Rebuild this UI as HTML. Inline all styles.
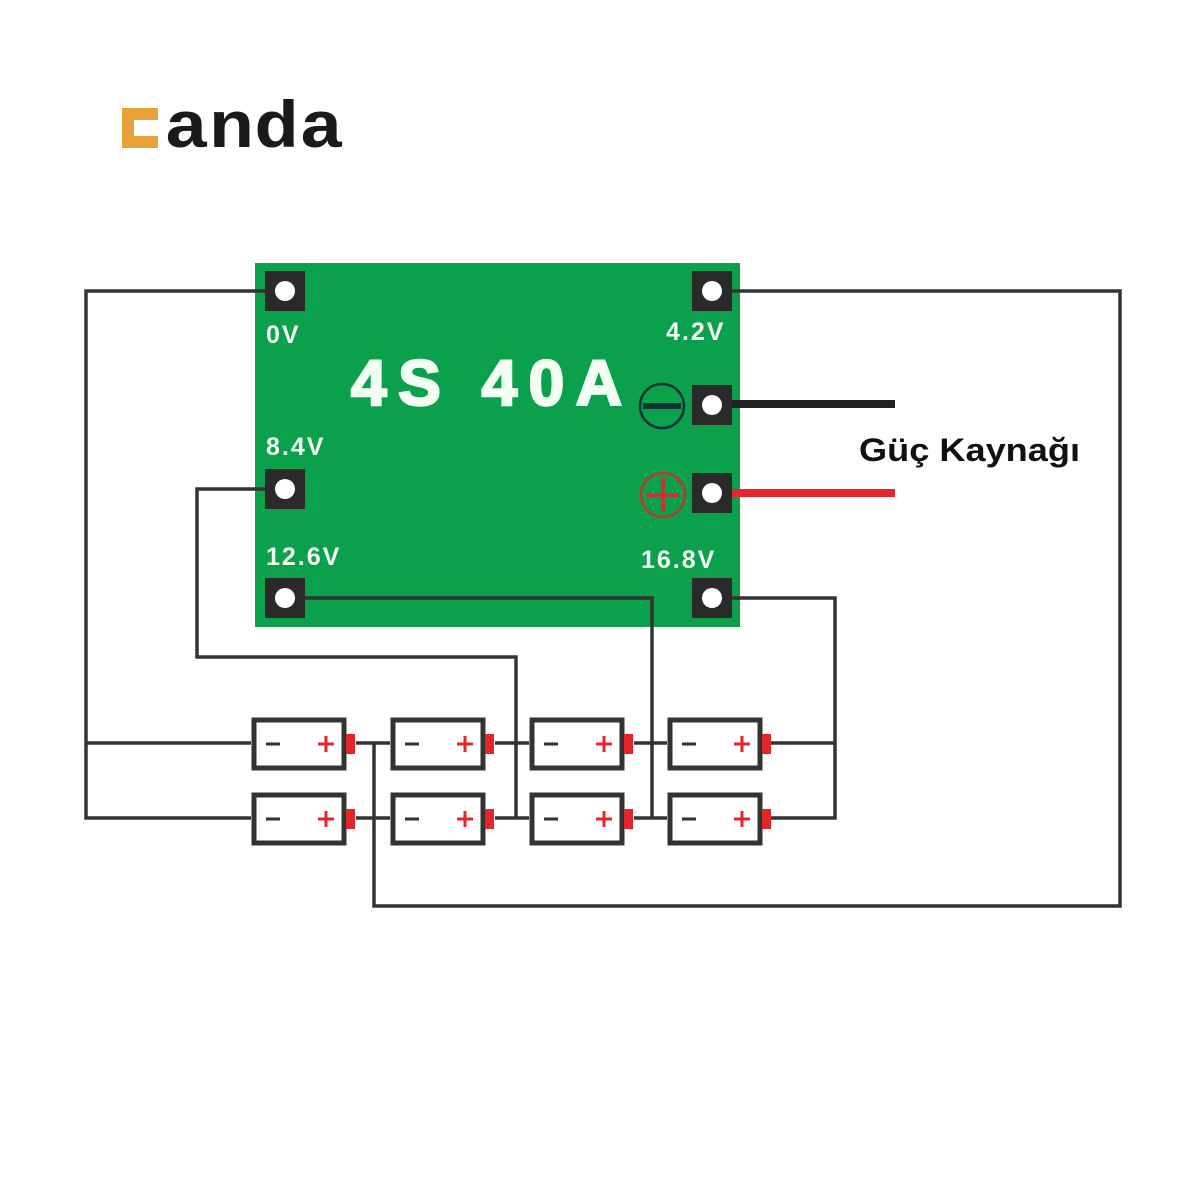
<!DOCTYPE html>
<html><head><meta charset="utf-8"><style>
html,body{margin:0;padding:0;background:#fff;width:1200px;height:1200px;overflow:hidden}
</style></head><body>
<svg width="1200" height="1200" viewBox="0 0 1200 1200" xmlns="http://www.w3.org/2000/svg">
<rect width="1200" height="1200" fill="#fff"/>
<!-- logo -->
<path d="M122 108 H158 V120 H134 V136 H158 V148 H122 Z" fill="#e8a23a"/>
<text x="164" y="147" font-family="Liberation Mono, monospace" font-weight="bold" font-size="66" fill="#1a1a1a" textLength="180" lengthAdjust="spacingAndGlyphs">anda</text>
<!-- board -->
<rect x="255" y="263" width="485" height="364" fill="#0aa04c"/>
<g fill="none" stroke="#333" stroke-width="3.5">
<polyline points="285,291 86,291 86,818 251,818"/>
<line x1="86" y1="743" x2="251" y2="743"/>
<polyline points="712,291 1120,291 1120,906 374,906 374,743"/>
<line x1="356" y1="743" x2="390" y2="743"/>
<line x1="356" y1="818" x2="390" y2="818"/>
<polyline points="285,489 197,489 197,657 516,657 516,818"/>
<line x1="495" y1="743" x2="529" y2="743"/>
<line x1="495" y1="818" x2="529" y2="818"/>
<polyline points="285,598 652,598 652,818"/>
<line x1="634" y1="743" x2="667" y2="743"/>
<line x1="634" y1="818" x2="667" y2="818"/>
<polyline points="712,598 835,598 835,818 770,818"/>
<line x1="770" y1="743" x2="835" y2="743"/>
</g>
<line x1="712" y1="404" x2="895" y2="404" stroke="#222" stroke-width="8"/>
<line x1="712" y1="493" x2="895" y2="493" stroke="#e4262c" stroke-width="8"/>
<!-- pads -->
<g fill="#2a2a2a">
<rect x="265" y="271" width="40" height="40"/><rect x="692" y="271" width="40" height="40"/>
<rect x="692" y="385" width="40" height="40"/><rect x="692" y="473" width="40" height="40"/>
<rect x="265" y="469" width="40" height="40"/><rect x="265" y="578" width="40" height="40"/>
<rect x="692" y="578" width="40" height="40"/>
</g>
<g fill="#fff">
<circle cx="285" cy="291" r="10"/><circle cx="712" cy="291" r="10"/>
<circle cx="712" cy="405" r="10"/><circle cx="712" cy="493" r="10"/>
<circle cx="285" cy="489" r="10"/><circle cx="285" cy="598" r="10"/>
<circle cx="712" cy="598" r="10"/>
</g>
<!-- polarity symbols -->
<circle cx="662" cy="406" r="22" fill="none" stroke="#133" stroke-width="2.5"/>
<line x1="643" y1="406" x2="681" y2="406" stroke="#133" stroke-width="6"/>
<circle cx="663" cy="495" r="22" fill="none" stroke="#b83a2a" stroke-width="2.5"/>
<line x1="646" y1="495" x2="680" y2="495" stroke="#e4262c" stroke-width="3.5"/>
<line x1="663" y1="478" x2="663" y2="512" stroke="#e4262c" stroke-width="3.5"/>
<!-- labels -->
<g font-family="Liberation Sans, sans-serif" font-weight="bold" fill="#f4fff4" font-size="25" letter-spacing="2">
<text x="266" y="343">0V</text>
<text x="666" y="340">4.2V</text>
<text x="266" y="455">8.4V</text>
<text x="266" y="565">12.6V</text>
<text x="641" y="568">16.8V</text>
</g>
<text x="351" y="405" font-family="Liberation Sans, sans-serif" font-weight="bold" font-size="64" letter-spacing="5" fill="#f4fff4" stroke="#f4fff4" stroke-width="2.5" textLength="276" lengthAdjust="spacing">4S 40A</text>
<text x="859" y="461" font-family="Liberation Sans, sans-serif" font-weight="bold" font-size="32" fill="#111" textLength="221" lengthAdjust="spacingAndGlyphs">Güç Kaynağı</text>
<!-- batteries -->
<defs>
<g id="bat">
<rect x="0" y="0" width="90" height="48" fill="#fff" stroke="#333" stroke-width="5"/>
<line x1="12" y1="24" x2="26" y2="24" stroke="#333" stroke-width="3"/>
<line x1="64" y1="24" x2="80" y2="24" stroke="#e4262c" stroke-width="3"/>
<line x1="72" y1="16" x2="72" y2="32" stroke="#e4262c" stroke-width="3"/>
<rect x="92" y="14" width="9" height="20" fill="#e4262c"/>
</g>
</defs>
<use href="#bat" x="254" y="720"/><use href="#bat" x="393" y="720"/>
<use href="#bat" x="532" y="720"/><use href="#bat" x="670" y="720"/>
<use href="#bat" x="254" y="795"/><use href="#bat" x="393" y="795"/>
<use href="#bat" x="532" y="795"/><use href="#bat" x="670" y="795"/>
</svg>
</body></html>
